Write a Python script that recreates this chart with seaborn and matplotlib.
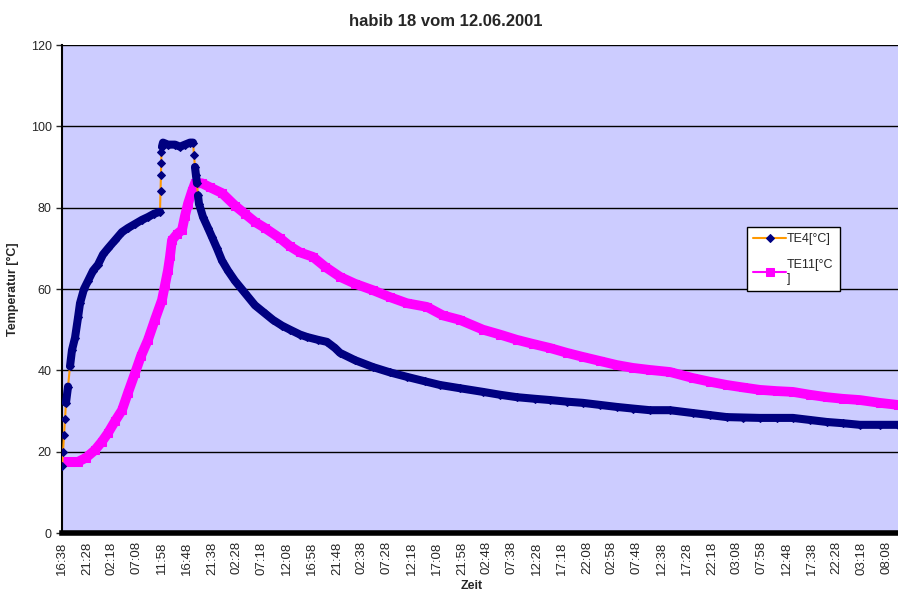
import numpy as np
import pandas as pd
import seaborn as sns
import matplotlib.pyplot as plt

# elapsed minutes since 16:38 on the start day
te4_min = [0, 12, 23, 35, 46, 70, 93, 116, 151, 186, 209, 255, 302, 360, 418, 476, 534,
           615, 696, 766, 847, 928, 998, 1067, 1137, 1143, 1148, 1151, 1154, 1160, 1172,
           1230, 1311, 1369, 1427, 1485, 1520, 1531, 1543, 1554, 1566, 1578, 1589, 1636,
           1694, 1740, 1798, 1856, 1926, 2007, 2123, 2239, 2355, 2448, 2552, 2645, 2761,
           2842, 2970, 3074, 3167, 3225, 3399, 3608, 3805, 4002, 4211, 4385, 4617, 4884,
           5081, 5278, 5487, 5661, 5858, 6044, 6241, 6438, 6624, 6821, 7053, 7320, 7517,
           7714, 7900, 8097, 8294, 8480, 8677, 8874, 9060, 9257, 9489, 9698]
te4_val = [16.5, 20, 24, 28, 32, 36, 41, 45, 48, 53, 56.5, 60, 62, 64.5, 66, 68.5, 70,
           72, 74, 75, 76, 77, 77.7, 78.5, 79, 84, 88, 91, 93.7, 95, 96,
           95.5, 95.5, 95, 95.5, 96, 96, 93, 90, 88, 86, 83, 81, 77.7,
           75, 72.8, 70, 67, 64.5, 62, 59, 56, 54, 52.4, 51, 50, 48.8,
           48.2, 47.5, 47, 45.5, 44.3, 42.5, 40.8, 39.5, 38.4, 37.3, 36.4, 35.6, 34.7,
           34, 33.4, 33, 32.7, 32.3, 32, 31.5, 31, 30.6, 30.2, 30.2, 29.5, 29,
           28.5, 28.4, 28.3, 28.3, 28.3, 27.8, 27.3, 27, 26.6, 26.6, 26.6]

te11_min = [0, 93, 186, 278, 383, 464, 534, 615, 696, 766, 847, 916, 998, 1079, 1160,
            1195, 1230, 1253, 1276, 1334, 1392, 1427, 1462, 1508, 1543, 1624, 1717, 1856,
            2007, 2123, 2239, 2355, 2529, 2645, 2761, 2912, 3051, 3225, 3399, 3608, 3805,
            4002, 4234, 4420, 4617, 4884, 5081, 5278, 5464, 5661, 5858, 6044, 6241, 6438,
            6624, 6821, 7053, 7320, 7517, 7714, 7900, 8097, 8294, 8480, 8677, 8874, 9060,
            9257, 9489, 9698]
te11_val = [17.5, 17.5, 17.5, 18.5, 20.4, 22.5, 24.6, 27.5, 30.2, 34.5, 39.3, 43.5, 47.5,
            52.5, 57.3, 61, 64.7, 68, 72, 73.5, 74.5, 78, 81, 84, 86, 86, 85, 83.6,
            80.5, 78.5, 76.5, 75, 72.5, 70.5, 69, 67.9, 65.5, 63, 61.3, 59.7, 58,
            56.5, 55.6, 53.5, 52.4, 50, 48.8, 47.5, 46.5, 45.5, 44.3, 43.3, 42.3, 41.3,
            40.6, 40.1, 39.6, 38.1, 37.2, 36.4, 35.8, 35.2, 34.9, 34.7, 34, 33.4, 33,
            32.7, 32, 31.5]

tick_labels = ["16:38", "21:28", "02:18", "07:08", "11:58", "16:48", "21:38", "02:28",
               "07:18", "12:08", "16:58", "21:48", "02:38", "07:28", "12:18", "17:08",
               "21:58", "02:48", "07:38", "12:28", "17:18", "22:08", "02:58", "07:48",
               "12:38", "17:28", "22:18", "03:08", "07:58", "12:48", "17:38", "22:28",
               "03:18", "08:08"]
tick_step = 290

NAVY = "#000080"
ORANGE = "#FF9900"
MAGENTA = "#FF00FF"

sns.set_style("white")
plt.rcParams["font.family"] = ["Liberation Sans", "DejaVu Sans"]

df4 = pd.DataFrame({"t": te4_min, "v": te4_val})
df11 = pd.DataFrame({"t": te11_min, "v": te11_val})

fig = plt.figure(figsize=(8.98, 5.92), dpi=100)
ax = fig.add_axes([62 / 898, 1 - 533 / 592, 1 - 62 / 898, (533 - 45) / 592])
ax.set_facecolor("#CCCCFF")

# dense marker trail: thick line, broken where the curve jumps steeply
xs, ys = [], []
mpp = 9700 / 836  # minutes per pixel
for i in range(len(te4_min)):
    xs.append(te4_min[i])
    ys.append(te4_val[i])
    if i + 1 < len(te4_min):
        dx = (te4_min[i + 1] - te4_min[i]) / mpp
        if abs(te4_val[i + 1] - te4_val[i]) > 2.5 * max(dx, 0.01):
            xs.append(np.nan)
            ys.append(np.nan)

sns.lineplot(data=df11, x="t", y="v", color=MAGENTA, lw=7, estimator=None,
             ax=ax, zorder=3, legend=False)
sns.lineplot(data=df11, x="t", y="v", color=MAGENTA, lw=1.5, marker="s",
             markersize=6, markerfacecolor=MAGENTA, markeredgecolor=MAGENTA,
             estimator=None, ax=ax, zorder=4, label="TE11[°C\n]")

sns.lineplot(data=df4, x="t", y="v", color=ORANGE, lw=1.5, marker="D",
             markersize=4.5, markerfacecolor=NAVY, markeredgecolor=NAVY,
             estimator=None, ax=ax, zorder=5, label="TE4[°C]")
ax.plot(xs, ys, color=NAVY, lw=5.8, zorder=5.5, solid_capstyle="round")

ax.set_xlim(0, 9700)
ax.set_ylim(0, 120)
ax.set_yticks(range(0, 121, 20))
ax.set_xticks([i * tick_step for i in range(len(tick_labels))])
ax.set_xticklabels(tick_labels, rotation=90, fontsize=9.5)
ax.tick_params(axis="y", labelsize=9, length=4, width=1, direction="out", left=True)
ax.tick_params(axis="x", length=0, pad=6)
ax.yaxis.grid(True, color="black", lw=1)
ax.set_axisbelow(True)

for s in ["top", "right"]:
    ax.spines[s].set_visible(False)
ax.spines["left"].set_color("black")
ax.spines["left"].set_linewidth(1.5)
ax.spines["bottom"].set_color("black")
ax.spines["bottom"].set_linewidth(4)

ax.set_title("habib 18 vom 12.06.2001", fontsize=12, fontweight="bold",
             x=0.459, pad=14)
ax.set_ylabel("Temperatur [°C]", fontsize=9, fontweight="bold", labelpad=8)
ax.set_xlabel("Zeit", fontsize=9, fontweight="bold")
ax.xaxis.set_label_coords(0.49, -0.096)

handles, labels = ax.get_legend_handles_labels()
order = [labels.index("TE4[°C]"), labels.index("TE11[°C\n]")]
leg = ax.legend([handles[i] for i in order], [labels[i] for i in order],
                loc="upper left", bbox_to_anchor=(0.8194, 0.627), fontsize=9,
                frameon=True, fancybox=False, framealpha=1, edgecolor="black",
                borderpad=0.5, borderaxespad=0, handlelength=2.6, labelspacing=1.1,
                handletextpad=0.1)
leg.get_frame().set_linewidth(1)
leg.set_zorder(10)

fig.savefig("out.png", dpi=100)
